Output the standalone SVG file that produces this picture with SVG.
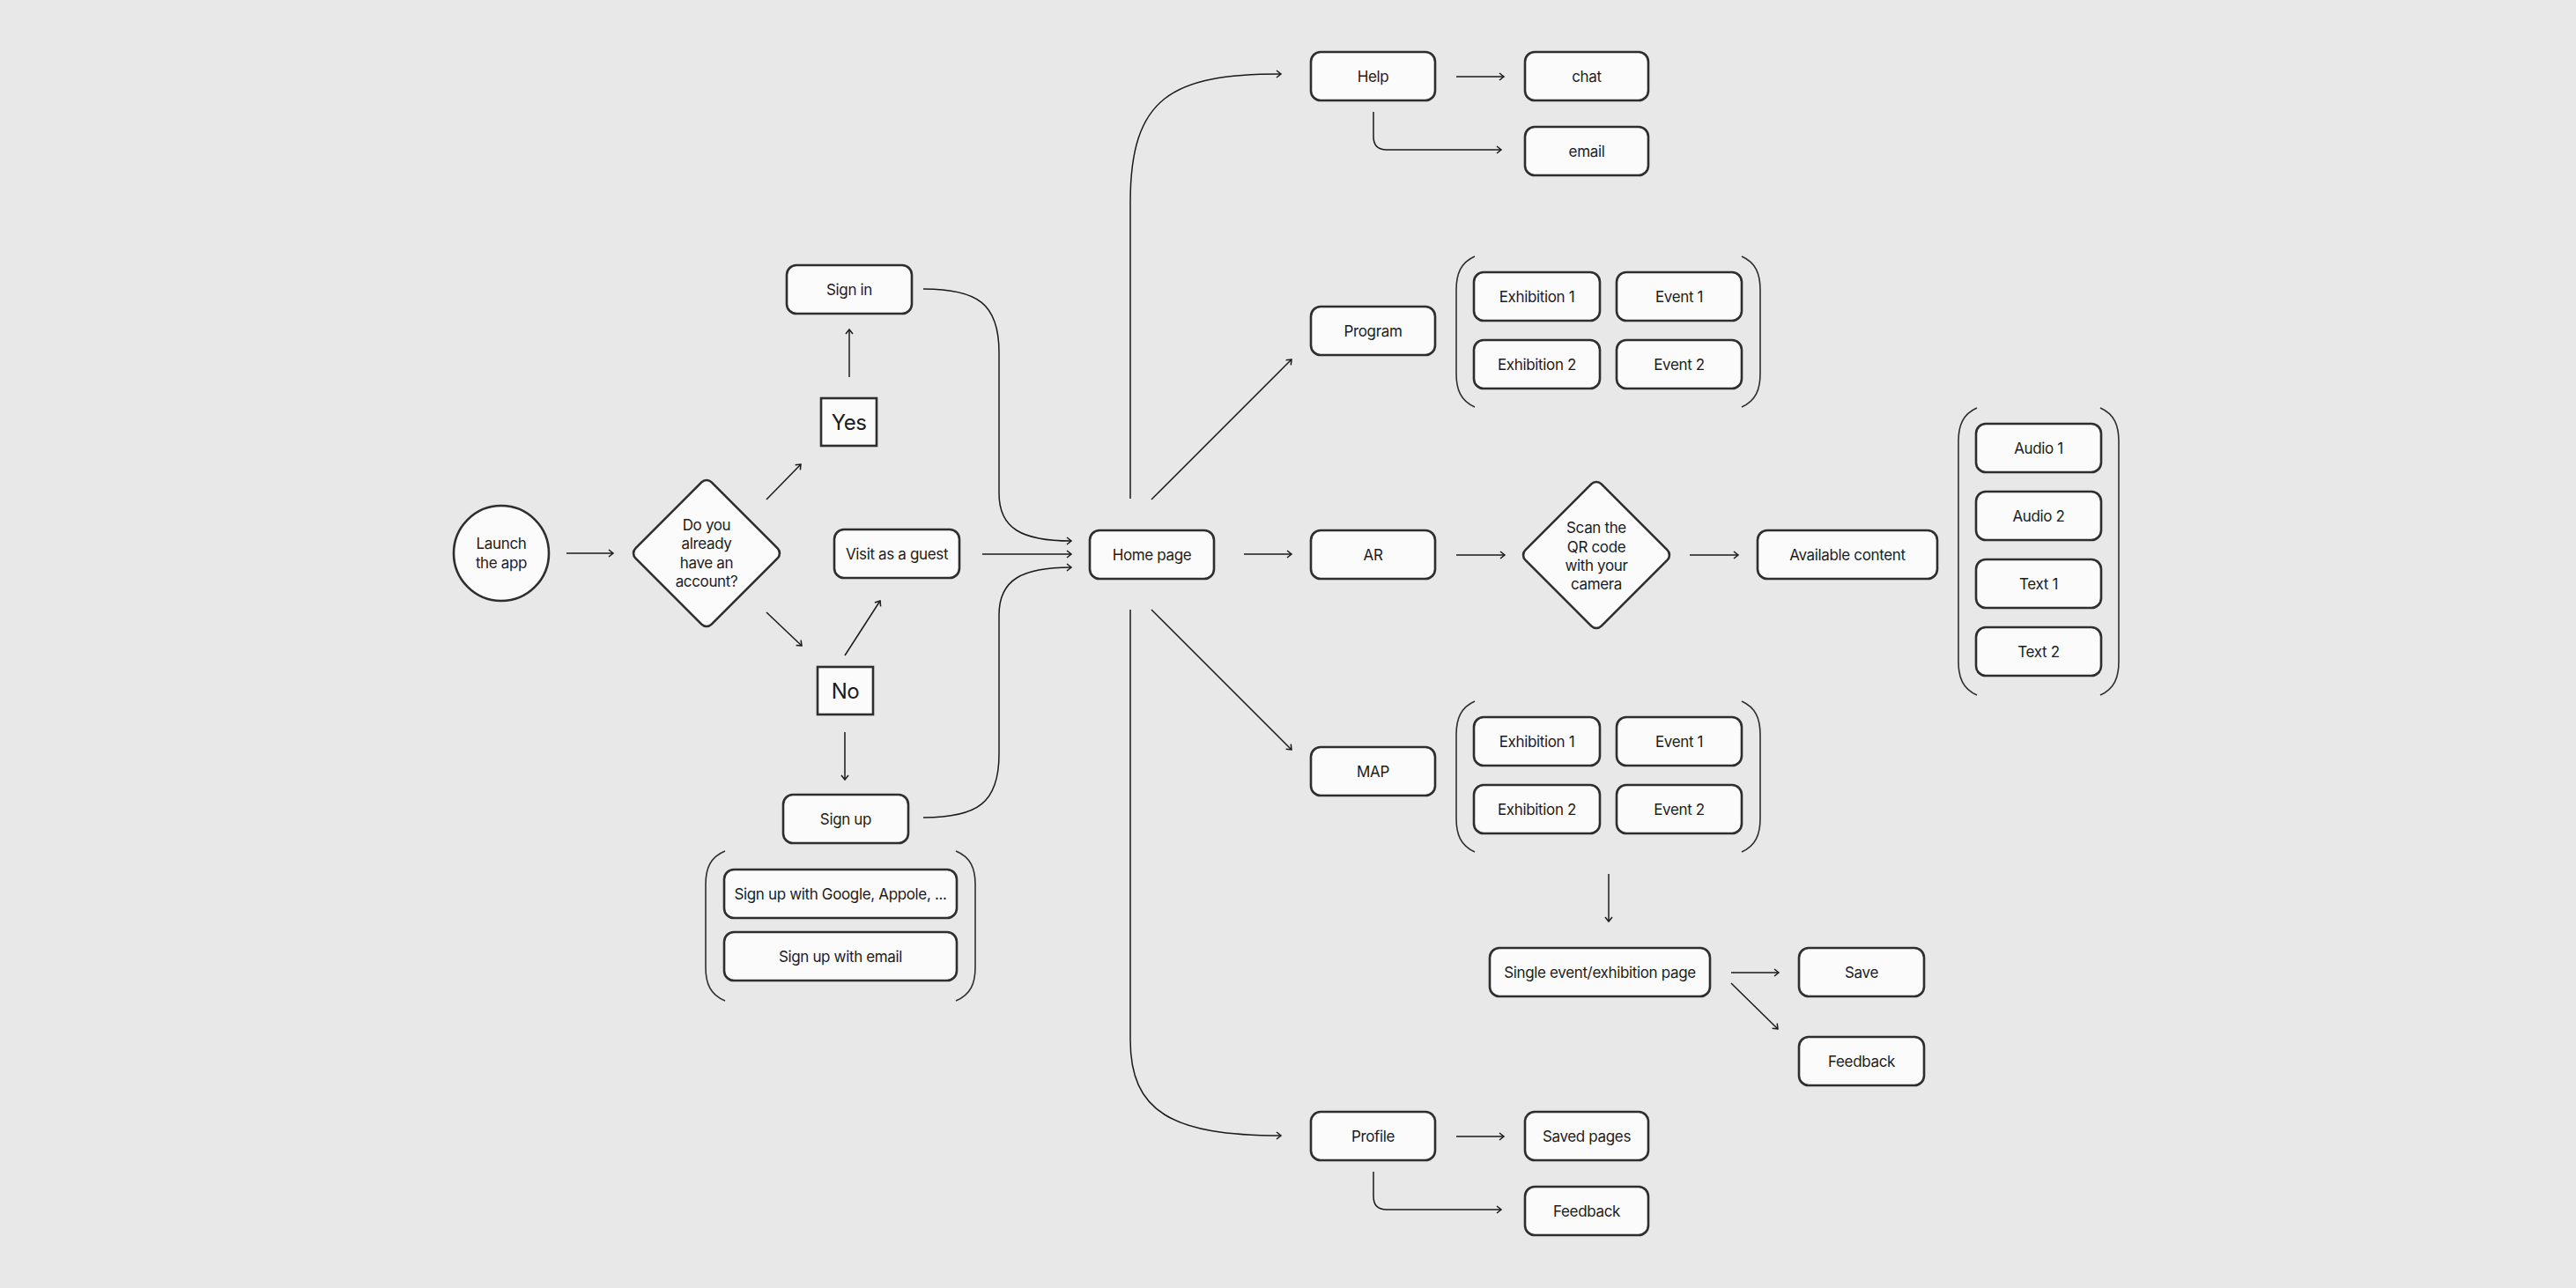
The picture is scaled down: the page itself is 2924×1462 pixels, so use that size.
<svg xmlns="http://www.w3.org/2000/svg" width="2924" height="1462" viewBox="0 0 2924 1462">
<defs>
<marker id="arr" markerUnits="userSpaceOnUse" markerWidth="12" markerHeight="12" refX="6" refY="5" orient="auto">
<path d="M1,1 L6,5 L1,9" fill="none" stroke="#1a1a1a" stroke-width="1.5"/>
</marker>
<style>
.box{fill:#fbfbfb;stroke:#2e2e2e;stroke-width:2.6}
.sq{fill:#fbfbfb;stroke:#2e2e2e;stroke-width:2.6}
.t{font-family:Inter,"Liberation Sans",sans-serif;font-size:17px;letter-spacing:-0.35px;fill:#1c1c1c;text-anchor:middle;dominant-baseline:central}
.big{font-size:24px;letter-spacing:-0.5px}
.c{fill:none;stroke:#1a1a1a;stroke-width:1.5;marker-end:url(#arr)}
.br{fill:none;stroke:#2e2e2e;stroke-width:1.6}
</style>
</defs>
<rect width="2924" height="1462" fill="#e8e8e8"/>

<g id="connectors">
<path class="c" d="M643,628 H696"/>
<path class="c" d="M870,567 L909,527"/>
<path class="c" d="M964,428 V374"/>
<path class="c" d="M870,695 L910,733"/>
<path class="c" d="M959,744 L999,682"/>
<path class="c" d="M959,831 V885"/>
<path class="c" d="M1048,328 C1110,328 1134,345 1134,400 V560 C1134,600 1160,614 1216,614"/>
<path class="c" d="M1115,629 H1216"/>
<path class="c" d="M1048,928 C1110,928 1134,911 1134,856 V698 C1134,658 1160,644 1216,644"/>
<path class="c" d="M1283,566 V230 C1283,110 1330,84 1454,84"/>
<path class="c" d="M1307,567 L1466,408"/>
<path class="c" d="M1412,629 H1466"/>
<path class="c" d="M1307,692 L1466,851"/>
<path class="c" d="M1283,692 V1180 C1283,1262 1330,1289 1454,1289"/>
<path class="c" d="M1653,87 H1707"/>
<path class="c" d="M1559,127 V155 Q1559,170 1574,170 H1704"/>
<path class="c" d="M1653,630 H1708"/>
<path class="c" d="M1918,630 H1973"/>
<path class="c" d="M1826,992 V1046"/>
<path class="c" d="M1965,1104 H2019"/>
<path class="c" d="M1965,1116 L2018,1168"/>
<path class="c" d="M1653,1290 H1707"/>
<path class="c" d="M1559,1330 V1358 Q1559,1373 1574,1373 H1704"/>
</g>

<g id="brackets">
<path class="br" d="M823,966 C806,973 801,986 801,1004 V1098 C801,1116 806,1129 823,1136 M1085,966 C1102,973 1107,986 1107,1004 V1098 C1107,1116 1102,1129 1085,1136"/>
<path class="br" d="M1674,291 C1658,298 1653,311 1653,329 V424 C1653,442 1658,455 1674,462 M1977,291 C1993,298 1998,311 1998,329 V424 C1998,442 1993,455 1977,462"/>
<path class="br" d="M1674,796 C1658,803 1653,816 1653,834 V929 C1653,947 1658,960 1674,967 M1977,796 C1993,803 1998,816 1998,834 V929 C1998,947 1993,960 1977,967"/>
<path class="br" d="M2244,463 C2228,470 2223,483 2223,501 V751 C2223,769 2228,782 2244,789 M2384,463 C2400,470 2405,483 2405,501 V751 C2405,769 2400,782 2384,789"/>
</g>

<g id="launch"><circle class="box" cx="569" cy="628" r="54"/><text class="t" x="569" y="617">Launch</text><text class="t" x="569" y="639">the app</text></g>
<g id="q-account"><rect class="box" x="741" y="567" width="122" height="122" rx="8" transform="rotate(45 802 628)"/>
<text class="t" x="802" y="596">Do you</text><text class="t" x="802" y="617">already</text><text class="t" x="802" y="639">have an</text><text class="t" x="802" y="660">account?</text></g>
<g id="yes"><rect class="sq" x="932" y="452" width="63" height="54"/><text class="t big" x="963.5" y="479">Yes</text></g>
<g id="no"><rect class="sq" x="928" y="757" width="63" height="54"/><text class="t big" x="959.5" y="784">No</text></g>
<g id="signin"><rect class="box" x="893" y="301" width="142" height="55" rx="11"/><text class="t" x="964" y="328.5">Sign in</text></g>
<g id="guest"><rect class="box" x="947" y="601" width="142" height="55" rx="11"/><text class="t" x="1018" y="628.5">Visit as a guest</text></g>
<g id="signup"><rect class="box" x="889" y="902" width="142" height="55" rx="11"/><text class="t" x="960" y="929.5">Sign up</text></g>
<g id="signup-google"><rect class="box" x="822" y="987" width="264" height="55" rx="11"/><text class="t" x="954" y="1014.5">Sign up with Google, Appole, ...</text></g>
<g id="signup-email"><rect class="box" x="822" y="1058" width="264" height="55" rx="11"/><text class="t" x="954" y="1085.5">Sign up with email</text></g>

<g id="home"><rect class="box" x="1237" y="602" width="141" height="55" rx="11"/><text class="t" x="1307.5" y="629.5">Home page</text></g>
<g id="help"><rect class="box" x="1488" y="59" width="141" height="55" rx="11"/><text class="t" x="1558.5" y="86.5">Help</text></g>
<g id="chat"><rect class="box" x="1731" y="59" width="140" height="55" rx="11"/><text class="t" x="1801" y="86.5">chat</text></g>
<g id="email"><rect class="box" x="1731" y="144" width="140" height="55" rx="11"/><text class="t" x="1801" y="171.5">email</text></g>
<g id="program"><rect class="box" x="1488" y="348" width="141" height="55" rx="11"/><text class="t" x="1558.5" y="375.5">Program</text></g>
<g id="prog-ex1"><rect class="box" x="1673" y="309" width="143" height="55" rx="11"/><text class="t" x="1744.5" y="336.5">Exhibition 1</text></g>
<g id="prog-ev1"><rect class="box" x="1835" y="309" width="142" height="55" rx="11"/><text class="t" x="1906" y="336.5">Event 1</text></g>
<g id="prog-ex2"><rect class="box" x="1673" y="386" width="143" height="55" rx="11"/><text class="t" x="1744.5" y="413.5">Exhibition 2</text></g>
<g id="prog-ev2"><rect class="box" x="1835" y="386" width="142" height="55" rx="11"/><text class="t" x="1906" y="413.5">Event 2</text></g>
<g id="ar"><rect class="box" x="1488" y="602" width="141" height="55" rx="11"/><text class="t" x="1558.5" y="629.5">AR</text></g>
<g id="q-scan"><rect class="box" x="1751" y="569" width="122" height="122" rx="8" transform="rotate(45 1812 630)"/>
<text class="t" x="1812" y="599">Scan the</text><text class="t" x="1812" y="621">QR code</text><text class="t" x="1812" y="642">with your</text><text class="t" x="1812" y="663">camera</text></g>
<g id="available"><rect class="box" x="1995" y="602" width="204" height="55" rx="11"/><text class="t" x="2097" y="629.5">Available content</text></g>
<g id="audio1"><rect class="box" x="2243" y="481" width="142" height="55" rx="11"/><text class="t" x="2314" y="508.5">Audio 1</text></g>
<g id="audio2"><rect class="box" x="2243" y="558" width="142" height="55" rx="11"/><text class="t" x="2314" y="585.5">Audio 2</text></g>
<g id="text1"><rect class="box" x="2243" y="635" width="142" height="55" rx="11"/><text class="t" x="2314" y="662.5">Text 1</text></g>
<g id="text2"><rect class="box" x="2243" y="712" width="142" height="55" rx="11"/><text class="t" x="2314" y="739.5">Text 2</text></g>
<g id="map"><rect class="box" x="1488" y="848" width="141" height="55" rx="11"/><text class="t" x="1558.5" y="875.5">MAP</text></g>
<g id="map-ex1"><rect class="box" x="1673" y="814" width="143" height="55" rx="11"/><text class="t" x="1744.5" y="841.5">Exhibition 1</text></g>
<g id="map-ev1"><rect class="box" x="1835" y="814" width="142" height="55" rx="11"/><text class="t" x="1906" y="841.5">Event 1</text></g>
<g id="map-ex2"><rect class="box" x="1673" y="891" width="143" height="55" rx="11"/><text class="t" x="1744.5" y="918.5">Exhibition 2</text></g>
<g id="map-ev2"><rect class="box" x="1835" y="891" width="142" height="55" rx="11"/><text class="t" x="1906" y="918.5">Event 2</text></g>
<g id="single"><rect class="box" x="1691" y="1076" width="250" height="55" rx="11"/><text class="t" x="1816" y="1103.5">Single event/exhibition page</text></g>
<g id="save"><rect class="box" x="2042" y="1076" width="142" height="55" rx="11"/><text class="t" x="2113" y="1103.5">Save</text></g>
<g id="feedback1"><rect class="box" x="2042" y="1177" width="142" height="55" rx="11"/><text class="t" x="2113" y="1204.5">Feedback</text></g>
<g id="profile"><rect class="box" x="1488" y="1262" width="141" height="55" rx="11"/><text class="t" x="1558.5" y="1289.5">Profile</text></g>
<g id="saved"><rect class="box" x="1731" y="1262" width="140" height="55" rx="11"/><text class="t" x="1801" y="1289.5">Saved pages</text></g>
<g id="feedback2"><rect class="box" x="1731" y="1347" width="140" height="55" rx="11"/><text class="t" x="1801" y="1374.5">Feedback</text></g>
</svg>
